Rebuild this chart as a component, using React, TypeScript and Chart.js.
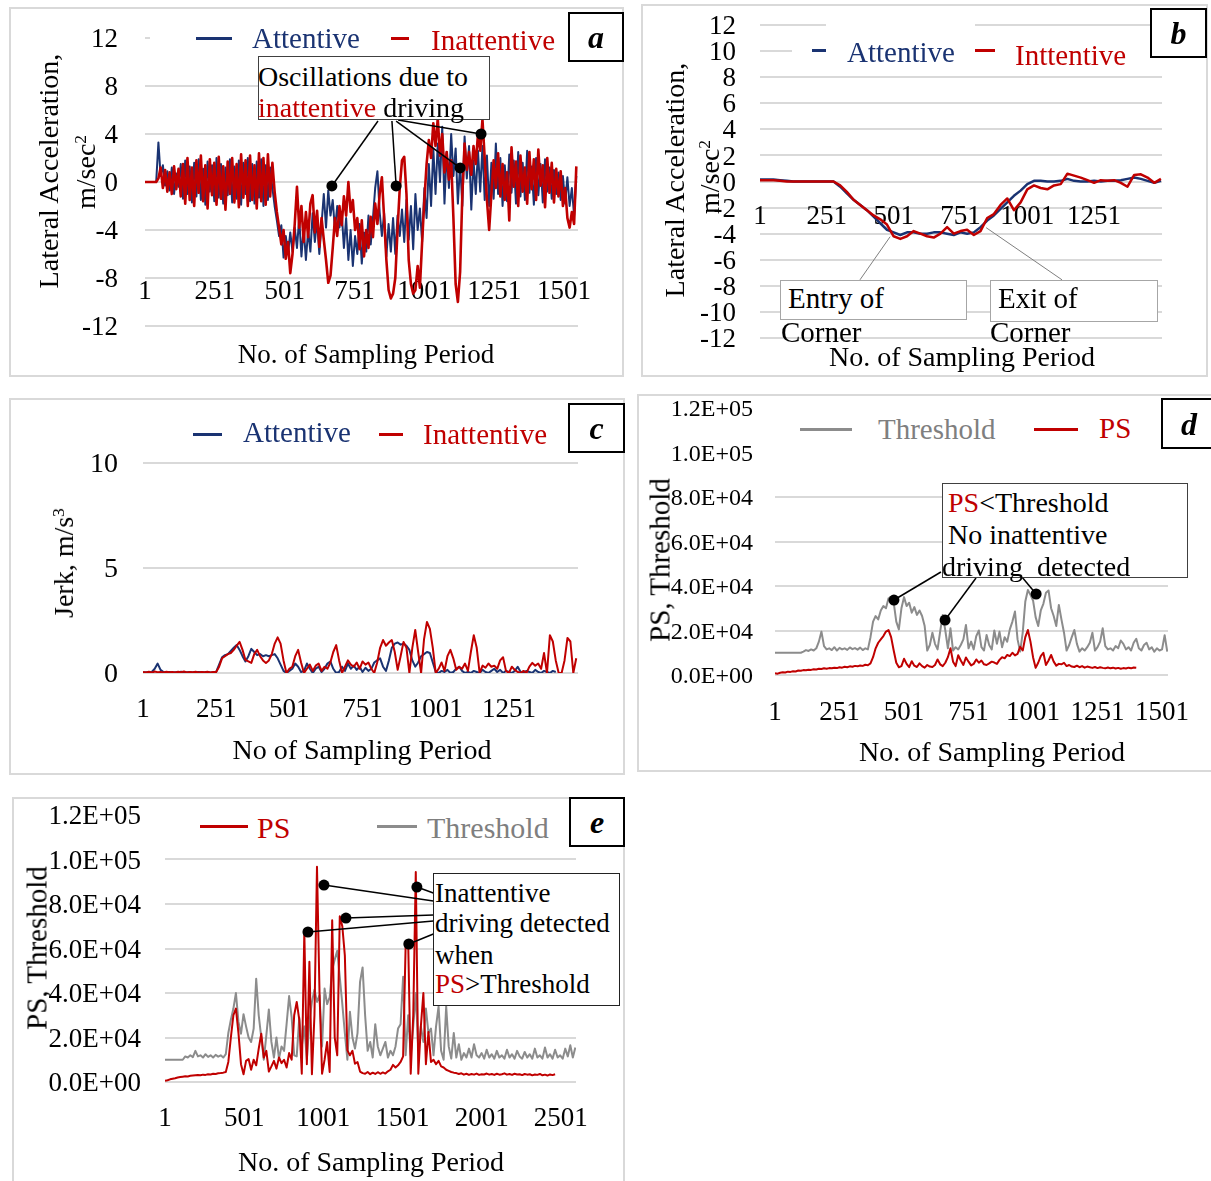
import React, { useEffect, useRef } from "react";
import { Chart, registerables } from "chart.js";

Chart.register(...registerables);

const FONT = "'Liberation Serif', 'Times New Roman', Times, serif";
const BLUE = "#1a3372";
const RED = "#c00000";
const GRAY = "#8c8c8c";
const GRAY_TEXT = "#7f7f7f";
const GRID = "#d9d9d9";

// ---------------- Panel a : lateral acceleration (samples every 8) ----------------
const A_STEP = 8;
const A_X_TICKS = [1, 251, 501, 751, 1001, 1251, 1501];
const A_ATTENTIVE = [
  0, 0, 0, 0, 0, 0,
  3.3, 0.5, 1.4, -0.3, 0.9, -0.7, 1.2, -1.0, 0.7, -0.4, 1.5,
  -1.4, 1.8, -1.0, 1.3, -1.7, 1.6, -1.2, 1.9, -1.5, 1.1, -1.9,
  1.7, -0.8, 1.4, -1.6, 2.0, -1.3, 1.5, -1.8, 1.2, -1.1, 1.9,
  -1.7, 1.3, -1.4, 1.8, -1.9, 1.6, -1.0, 2.0, -1.6, 1.5, -1.8,
  1.7, -1.3, 1.9, -2.0, 1.4, -1.5, 1.2, -0.5, -2.0, -3.2, -4.5,
  -3.6, -6.3, -4.5, -6.0, -4.2, -5.8, -3.8, -5.5, -3.0, -6.2, -3.8,
  -6.5, -4.0, -5.8, -2.6, -5.0, -3.2, -6.0, -3.5, -1.0, -3.8, -0.7,
  -2.8, -1.5, -4.0, -2.0, -3.8, -2.5, -5.5, -3.0, -6.5, -4.0, -7.0,
  -4.5, -6.0, -3.5, -6.8, -4.2, -5.8, -2.8, -5.2, -3.0, -0.5, 0.9,
  -2.5, -4.5, -2.6, -6.2, -3.5, -5.8, -3.0, -6.0, -2.8, -4.5, -2.3,
  -5.0, -1.5, -4.8, -2.0, -5.6, -1.0, -4.0, -2.2, -5.0, -0.5, -3.0,
  1.5, -2.0, 2.8, -1.0, 3.2, 0.0, 4.6, -1.8, 2.5, -0.5, 4.0,
  0.5, 2.8, -1.8, 1.5, -2.0, 3.8, 0.3, 3.0, -2.3, 1.8, -1.0,
  2.6, -0.8, 3.0, -1.5, 2.2, -2.0, 1.6, -1.4, 3.2, -1.0, 2.0,
  -2.0, 1.4, -1.6, 2.3, -0.9, 1.8, -1.8, 2.5, -1.2, 1.6, -1.5,
  2.6, -0.9, 1.3, -1.9, 2.0, -1.1, 1.5, -1.7, 1.9, -0.8, 1.2,
  -1.4, 1.0, -1.0, 0.8, -1.5, 0.5, -1.8, 0.4, -2.0, -0.5, -2.8, 0.5,
];
const A_INATTENTIVE = [
  0, 0, 0, 0, 0, 0,
  0.3, 1.2, -0.5, 1.0, -0.8, 0.8, -1.0, 1.3, -0.6, 1.1, -1.2,
  1.5, -1.8, 2.0, -1.5, 1.2, -2.0, 1.8, -0.9, 2.2, -1.6, 1.4,
  -2.2, 1.9, -1.1, 1.6, -1.9, 2.1, -1.4, 1.3, -2.3, 1.7, -1.0,
  2.0, -1.7, 1.5, -2.1, 2.3, -1.3, 1.8, -2.0, 2.2, -1.5, 1.4,
  -2.2, 2.4, -1.6, 2.0, -1.9, 2.3, -1.2, 1.6, -0.8, -2.5, -3.8,
  -5.2, -4.0, -6.4, -5.0, -7.6, -6.0, -3.5, -0.4, -3.8, -2.0, -5.0,
  -2.5, -4.6, -1.8, -1.1, -4.2, -2.4, -5.4, -3.0, -4.8, -6.5, -8.4,
  -7.8, -5.5, -3.0, -4.5, -2.0, -3.6, -1.2, -2.8, 0.0, -2.5, -1.5,
  -4.0, -3.0, -5.6, -3.2, -6.2, -4.0, -5.5, -2.9, -4.6, -1.8, -3.5,
  -1.0, 0.4, -3.0, -6.5, -9.0, -9.7, -9.3, -8.0, -4.0, -0.5, 1.8,
  2.1, -1.0, -6.5, -8.5, -9.3, -9.0, -7.0, -8.8, -5.0, -1.5, 1.5,
  3.5, 2.0, 4.9, 3.0, 5.3, 2.2, 4.0, 0.8, 2.5, 0.2, 1.8,
  -3.0, -8.5, -10.0, -7.5, -1.0, 3.2, 1.0, 2.5, 0.6, 3.0, 1.5,
  4.0, 2.6, 5.2, 2.0, -1.5, -4.0, -1.0, 1.8, -0.5, 2.4, -1.2,
  1.5, -1.5, 0.8, -3.2, 2.9, -0.4, 1.7, -2.0, 2.2, -0.8, 1.2,
  -1.8, 2.5, -0.6, 1.9, -1.5, 2.7, -0.3, 1.4, -2.1, 2.0, -0.9,
  1.6, -1.7, 1.1, -1.2, 0.9, -2.0, -0.5, -3.0, -3.8, -2.5, -3.5, 1.3,
];

// ---------------- Panel b : filtered lateral acceleration (samples every 25) ----------------
const B_STEP = 25;
const B_X_TICKS = [1, 251, 501, 751, 1001, 1251];
const B_ATTENTIVE = [
  0.15, 0.15, 0.15, 0.1, 0.05, 0, 0, 0, 0, 0, 0, 0,
  -0.4, -0.9, -1.4, -1.8, -2.2, -2.7, -3.2, -3.7, -3.9, -4.1, -3.9, -3.9, -4.0, -4.0,
  -3.9, -3.9, -4.0, -4.1, -3.9, -4.0, -3.9, -3.5, -3.0, -2.6, -2.1, -1.6, -1.1, -0.7, -0.2,
  0.05, 0.05, 0, 0, 0.05, 0.2, 0.05, 0, 0, 0.05, 0, 0.05, 0.05, 0.1, 0.2, 0.3, 0.2, 0.05, -0.1, 0.05,
];
const B_INATTENTIVE = [
  0.1, 0.1, 0.1, 0.05, 0, 0, 0, 0, 0, 0, 0, 0,
  -0.3, -0.8, -1.4, -1.8, -2.2, -2.6, -2.9, -3.3, -4.2, -4.4, -4.2, -3.8, -4.0, -4.2,
  -4.3, -4.0, -3.5, -4.0, -3.8, -3.7, -4.1, -3.8, -2.8, -2.5, -1.8, -1.3, -2.2, -1.6, -0.6,
  -0.3, -0.5, -0.6, -0.3, -0.2, 0.6, 0.45, 0.3, 0.1, -0.1, 0.1, 0.05, 0.1, -0.1, -0.4, 0.5, 0.55, 0.3, -0.1, 0.2,
];

// ---------------- Panel c : jerk (samples every 10) ----------------
const C_STEP = 10;
const C_X_TICKS = [1, 251, 501, 751, 1001, 1251];
const C_ATTENTIVE = [
  0.02, 0.03, 0.02, 0.05, 0.2, 0.45, 0.15, 0.05,
  0.03, 0.05, 0.02, 0.04, 0.03, 0.06, 0.02, 0.04, 0.05, 0.03, 0.02, 0.05, 0.04, 0.03, 0.05, 0.02, 0.04,
  0.05, 0.4, 0.75, 0.85, 0.9, 1.05, 1.2, 1.33, 1.1, 0.8, 0.55, 0.8, 1.15, 1.0, 0.85, 0.9, 0.8, 0.85, 0.8, 0.85, 0.9, 0.7, 0.4,
  0.1, 0.0, 0.1, 0.2, 0.45, 0.3, 0.05, 0.1, 0.45, 0.2, 0.0, 0.2, 0.3, 0.05, 0.2, 0.45, 0.55, 0.2, 0.0, 0.05, 0.3, 0.1, 0.45,
  0.2, 0.35, 0.15, 0.3, 0.05, 0.25, 0.1, 0.2, 0.5, 0.6, 0.7, 0.3, 0.1, 0.6, 1.2, 1.4, 1.45, 1.35, 1.4, 1.3, 1.1, 0.6, 0.3,
  0.5, 0.8, 0.9, 1.0, 0.95, 0.5, 0.05, 0.0, 0.1, 0.05, 0.15, 0.0, 0.05, 0.2, 0.3, 0.1, 0.0, 0.05, 0.0, 0.1, 0.05, 0.0, 0.15,
  0.05, 0.0, 0.1, 0.2, 0.05, 0.15, 0.0, 0.1, 0.05, 0.0, 0.1, 0.3, 0.05, 0.0, 0.1, 0.05, 0.0, 0.15, 0.05, 0.0, 0.1, 0.05, 0.0, 0.1, 0.05,
];
const C_INATTENTIVE = [
  0.05, 0.03, 0.06, 0.02, 0.07, 0.04, 0.05, 0.03, 0.06, 0.04, 0.05, 0.02, 0.06, 0.04, 0.07, 0.03, 0.05, 0.04, 0.06, 0.03, 0.05, 0.04, 0.06, 0.03, 0.05, 0.05,
  0.3, 0.7, 0.8, 0.9, 0.95, 1.1, 1.3, 1.48, 1.1, 0.62, 0.55, 0.48, 0.9, 1.1, 0.8, 0.6, 0.48, 0.6, 0.9, 1.4, 1.7, 1.4, 0.6,
  0.0, 0.2, 0.3, 0.8, 1.1, 0.5, 0.0, 0.2, 0.4, 0.1, 0.35, 0.45, 0.1, 0.3, 0.2, 0.5, 1.0, 1.33, 0.6, 0.0, 0.3, 0.6, 0.4,
  0.3, 0.5, 0.2, 0.55, 0.4, 0.5, 0.2, 0.0, 0.5, 1.2, 1.57, 1.3, 1.45, 1.57, 1.0, 0.15, 0.8, 1.48, 1.2, 0.0, 1.2, 2.05, 1.0,
  0.0, 1.6, 2.43, 2.1, 1.2, 0.0, 0.2, 0.5, 0.1, 0.8, 1.1, 0.7, 0.15, 0.3, 0.2, 0.45, 0.1, 1.0, 1.8, 1.2, 0.0, 0.35, 0.25,
  0.45, 0.3, 0.35, 0.2, 0.6, 0.75, 0.1, 0.0, 0.3, 0.15, 0.05, 0.0, 0.1, 0.0, 0.3, 0.48, 0.35, 0.45, 0.2, 0.95, 0.0, 1.8, 1.5,
  0.6, 0.0, 0.0, 0.6, 1.67, 1.5, 0.0, 0.7,
];

// ---------------- Panel d : PS vs threshold, attentive (samples every 10) ----------------
const D_STEP = 10;
const D_X_TICKS = [1, 251, 501, 751, 1001, 1251, 1501];
const D_THRESHOLD = [
  10000, 10000, 10000, 10000, 10000, 10000, 10000, 10000, 10000, 10000, 10000,
  10500, 11200, 10800, 11500, 11000, 12000, 15000, 19500, 13000, 11500, 12000,
  11200, 12500, 11000, 12200, 11500, 12000, 11300, 12400, 11600, 12100, 11400,
  12300, 11200, 12000, 11500, 17000, 24000, 26500, 25000, 29000, 31000, 30000,
  34500, 33000, 32500, 24000, 20500, 30000, 35000, 31000, 32500, 28000, 30500,
  27000, 29000, 26500, 22000, 11000, 13500, 19000, 14000, 11500, 19500, 27000,
  20000, 12000, 21000, 11000, 12500, 11500, 13500, 16000, 22500, 12000, 15000,
  11500, 17500, 20000, 12500, 11000, 18000, 13500, 11500, 20000, 14000, 19500,
  12500, 17000, 15000, 20500, 24000, 28500, 16000, 10500, 19000, 33000, 38200,
  36000, 33500, 26000, 22000, 29000, 32000, 37000, 38000, 30000, 26500, 22000,
  31500, 25000, 19000, 11000, 13500, 17000, 20200, 14000, 10500, 12000, 11000,
  12500, 14500, 19000, 11000, 12500, 15000, 21000, 13000, 11500, 12000, 11000,
  13000, 12000, 15500, 14000, 11500, 12500, 11000, 14500, 16300, 12000, 11000,
  13500, 14500, 11500, 12500, 10500, 12000, 11000, 11500, 17900, 10500,
];
const D_PS = [
  800, 600, 1000, 1200, 1100, 1500, 1400, 1700, 1600, 2000, 1900,
  2200, 2100, 2400, 2300, 2600, 2500, 2800, 2700, 3000, 2800, 3100,
  3000, 3300, 3100, 3500, 3300, 3700, 3500, 3900, 3700, 4100, 3900,
  4300, 4100, 4600, 4400, 5200, 8000, 12000, 14500, 16000, 17500, 19500,
  20200, 17000, 11000, 5500, 3500, 4000, 7300, 5000, 3500, 6200, 4200,
  3600, 5200, 4000, 3300, 4500, 3800, 3600, 4500, 7000, 4800, 4000,
  5500, 8000, 12000, 6000, 4000, 8900, 6500, 4500, 7900, 6000, 4300,
  5000, 7000, 5500, 6500, 4800, 4500, 5200, 6000, 5600, 5000, 6800,
  8000, 7500, 9000, 8500, 10000, 8800, 9500, 12700, 11000, 17000, 20200,
  15000, 8000, 3200, 5500, 8500, 10000, 4500, 6500, 9000, 6000, 4200,
  5000, 4800, 5500, 4000, 4500, 3800, 3600, 4200, 3500, 4000, 3300,
  3800, 3500, 3200, 3600, 3100, 3500, 3200, 3000, 3400, 3000, 3300,
  2900, 3200, 2800, 3100, 2900, 3300, 3000, 3400, 3300,
];

// ---------------- Panel e : PS vs threshold, inattentive (samples every 16) ----------------
const E_STEP = 16;
const E_X_TICKS = [1, 501, 1001, 1501, 2001, 2501];
const E_PS = [
  500, 800, 1200, 1500, 1700, 2000, 2200, 2400, 2600, 2500, 2800,
  2900, 3000, 3100, 3000, 3300, 3200, 3500, 3400, 3700, 3600, 3900,
  4000, 4200, 4500, 9000, 20000, 30000, 33000, 22000, 8000, 3500, 9500,
  10300, 5500, 10000, 7500, 15000, 21700, 11000, 14000, 4700, 7000, 9500,
  6000, 11000, 8500, 10000, 6500, 13000, 10000, 30000, 36000, 28000, 3700,
  67500, 8000, 54000, 3500, 30000, 96700, 40000, 3700, 10000, 18000, 4500,
  72700, 20000, 12000, 74500, 70000, 56800, 14200, 12000, 14000, 8200, 9000,
  4700, 4000, 3700, 4500, 3500, 4200, 3600, 4400, 3700, 4300, 3800,
  4800, 5500, 7700, 6500, 7500, 9000, 11500, 61600, 63000, 3700, 30000,
  94400, 3700, 25000, 40000, 8000, 22500, 9000, 10000, 8000, 9500, 7000,
  6500, 5500, 5000, 4500, 4200, 4000, 3600, 3900, 3300, 3700, 3200,
  3600, 3300, 3800, 3200, 3500, 3400, 3800, 3300, 3600, 3200, 3700,
  3300, 3500, 3900, 3300, 3600, 3200, 3700, 3400, 3500, 3100, 3600,
  3300, 3500, 3000, 3400, 3200, 3600, 3000, 3300, 2900, 3400, 3100, 3500,
];
const E_THRESHOLD = [
  10000, 10000, 10000, 10000, 10000, 10000, 10000, 10000, 11500, 11000, 12000,
  11200, 14000, 11500, 12000, 11000, 12500, 11300, 12000, 11000, 12200, 11400,
  12000, 11000, 12500, 22000, 28000, 33000, 40000, 27000, 21700, 30500, 25000,
  20000, 18000, 24000, 46400, 30000, 20000, 10000, 21000, 32600, 18000, 11000,
  20000, 10500, 16000, 14000, 26000, 38600, 29000, 12000, 11500, 29000, 16000,
  25000, 10000, 27000, 36000, 41500, 36000, 39000, 16000, 42000, 35000, 38000,
  50300, 55000, 59000, 47000, 35000, 22000, 10000, 31600, 20000, 15000, 22000,
  45000, 51500, 30000, 14000, 18000, 11000, 26000, 16000, 12000, 15000, 18000,
  11000, 14000, 12000, 16000, 24000, 26000, 47300, 12000, 30000, 12000, 25000,
  40000, 14000, 25000, 18000, 33000, 22000, 24000, 12000, 25000, 34000, 14000,
  10000, 34000, 16000, 10500, 22000, 11000, 17000, 10000, 13000, 11000, 15000,
  11000, 17000, 12000, 11000, 13000, 10500, 14500, 11000, 12500, 10500, 14000,
  11000, 12000, 10500, 14500, 11000, 12500, 10500, 14000, 11500, 10500, 13500,
  11000, 12500, 10500, 15000, 11000, 12000, 10500, 15500, 11000, 12500, 10500,
  14500, 11000, 12000, 10500, 15000, 11500, 16500, 11000, 15500,
];

// ---------------- helpers ----------------
type Series = { values: number[]; step: number; color: string; width: number };
type Callout = { from: [number, number]; to: [number, number]; dot: boolean; color: string; width: number };
type Spec = {
  box: { left: number; top: number; width: number; height: number };
  area: { left: number; top: number; right: number; bottom: number };
  xMax: number;
  xTicks: number[];
  xAxisAt: number;
  xPad: number;
  xFont: number;
  yMin: number;
  yMax: number;
  yStep: number;
  yPad: number;
  yFont: number;
  sci?: boolean;
  series: Series[];
  callouts: Callout[];
};

const sci = (v: number) => {
  if (v === 0) return "0.0E+00";
  const e = Math.floor(Math.log10(Math.abs(v)) + 1e-9);
  const m = v / Math.pow(10, e);
  return m.toFixed(1) + "E+" + String(e).padStart(2, "0");
};

function ChartPanel({ spec }: { spec: Spec }) {
  const ref = useRef<HTMLCanvasElement | null>(null);
  useEffect(() => {
    const cv = ref.current;
    if (!cv) return;
    const { box, area } = spec;
    const yAxisWidth = area.left - box.left - 2;
    const padding = {
      left: 2,
      top: area.top - box.top,
      right: box.left + box.width - area.right,
      bottom: box.top + box.height - area.bottom,
    };
    const calloutPlugin = {
      id: "callouts",
      afterDatasetsDraw(chart: any) {
        const ctx = chart.ctx;
        const sx = chart.scales.x;
        const sy = chart.scales.y;
        ctx.save();
        spec.callouts.forEach((c) => {
          const x1 = sx.getPixelForValue(c.from[0]);
          const y1 = sy.getPixelForValue(c.from[1]);
          const x2 = sx.getPixelForValue(c.to[0]);
          const y2 = sy.getPixelForValue(c.to[1]);
          ctx.strokeStyle = c.color;
          ctx.lineWidth = c.width;
          ctx.beginPath();
          ctx.moveTo(x1, y1);
          ctx.lineTo(x2, y2);
          ctx.stroke();
          if (c.dot) {
            ctx.fillStyle = "#000";
            ctx.beginPath();
            ctx.arc(x2, y2, 5.5, 0, Math.PI * 2);
            ctx.fill();
          }
        });
        ctx.restore();
      },
    };
    const chart = new Chart(cv, {
      type: "line",
      data: {
        datasets: spec.series.map((s) => ({
          data: s.values.map((v, i) => ({ x: 1 + i * s.step, y: v })),
          borderColor: s.color,
          borderWidth: s.width,
          pointRadius: 0,
          pointHoverRadius: 0,
          tension: 0,
          fill: false,
          borderJoinStyle: "round" as const,
        })),
      },
      options: {
        responsive: false,
        animation: false,
        devicePixelRatio: 1,
        events: [],
        layout: { padding },
        plugins: { legend: { display: false }, tooltip: { enabled: false } },
        scales: {
          x: {
            type: "linear",
            min: 1,
            max: spec.xMax,
            position: { y: spec.xAxisAt } as any,
            grid: { display: false, drawTicks: false },
            border: { display: false },
            ticks: {
              autoSkip: false,
              maxRotation: 0,
              minRotation: 0,
              padding: spec.xPad,
              color: "#000",
              font: { family: FONT, size: spec.xFont, lineHeight: 1 },
              callback: (v: any) => String(v),
            },
            afterBuildTicks: (s: any) => {
              s.ticks = spec.xTicks.map((v) => ({ value: v }));
            },
            afterFit: (s: any) => {
              s.paddingLeft = 0;
              s.paddingRight = 0;
            },
          },
          y: {
            type: "linear",
            position: "left",
            min: spec.yMin,
            max: spec.yMax,
            grid: { color: GRID, lineWidth: 2, drawTicks: false },
            border: { display: false },
            ticks: {
              stepSize: spec.yStep,
              autoSkip: false,
              padding: spec.yPad,
              labelOffset: 2,
              color: "#000",
              font: { family: FONT, size: spec.yFont, lineHeight: 1 },
              callback: (v: any) => (spec.sci ? sci(Number(v)) : String(v)),
            },
            afterFit: (s: any) => {
              s.width = yAxisWidth;
              s.paddingTop = 0;
              s.paddingBottom = 0;
            },
          },
        },
      } as any,
      plugins: [calloutPlugin],
    });
    return () => chart.destroy();
  }, [spec]);
  return (
    <canvas
      ref={ref}
      width={spec.box.width}
      height={spec.box.height}
      style={{
        position: "absolute",
        left: spec.box.left,
        top: spec.box.top,
        width: spec.box.width,
        height: spec.box.height,
      }}
    />
  );
}

const Txt = ({ x, y, size, color = "#000", center = false, children }: any) => (
  <div
    style={{
      position: "absolute",
      left: x,
      top: y,
      fontFamily: FONT,
      fontSize: size,
      lineHeight: 1,
      color,
      whiteSpace: "pre",
      transform: center ? "translate(-50%,-50%)" : "translateY(-50%)",
    }}
  >
    {children}
  </div>
);

const VTxt = ({ x, y, size, children }: any) => (
  <div
    style={{
      position: "absolute",
      left: x,
      top: y,
      fontFamily: FONT,
      fontSize: size,
      lineHeight: 1,
      color: "#000",
      whiteSpace: "nowrap",
      transform: "translate(-50%,-50%) rotate(-90deg)",
    }}
  >
    {children}
  </div>
);

const Sup = ({ children }: any) => (
  <span style={{ fontSize: "0.62em", position: "relative", top: "-0.5em", lineHeight: 0 }}>{children}</span>
);

const Rect = ({ l, t, w, h, border = "none", bg = "#fff" }: any) => (
  <div
    style={{
      position: "absolute",
      left: l,
      top: t,
      width: w,
      height: h,
      border,
      background: bg,
      boxSizing: "border-box",
    }}
  />
);

const HLine = ({ x1, x2, y, color, h = 3 }: any) => (
  <div style={{ position: "absolute", left: x1, top: y - h / 2, width: x2 - x1, height: h, background: color }} />
);

const LabelBox = ({ l, t, w, h, ch }: any) => (
  <div
    style={{
      position: "absolute",
      left: l,
      top: t,
      width: w,
      height: h,
      border: "2px solid #000",
      background: "#fff",
      boxSizing: "border-box",
      display: "flex",
      alignItems: "center",
      justifyContent: "center",
      fontFamily: FONT,
      fontWeight: "bold",
      fontStyle: "italic",
      fontSize: 32,
      lineHeight: 1,
      overflow: "hidden",
    }}
  >
    {ch}
  </div>
);

const PANEL_BORDER = "2px solid " + GRID;

// ---------------- specs ----------------
const SPEC_A: Spec = {
  box: { left: 9, top: 7, width: 615, height: 370 },
  area: { left: 145, top: 38, right: 578, bottom: 326 },
  xMax: 1551,
  xTicks: A_X_TICKS,
  xAxisAt: -8,
  xPad: 0.5,
  xFont: 27,
  yMin: -12,
  yMax: 12,
  yStep: 4,
  yPad: 27,
  yFont: 27,
  series: [
    { values: A_INATTENTIVE, step: A_STEP, color: RED, width: 2.6 },
    { values: A_ATTENTIVE, step: A_STEP, color: BLUE, width: 2 },
  ],
  callouts: [
    { from: [835, 5.08], to: [670, -0.33], dot: true, color: "#000", width: 1.5 },
    { from: [885, 5.08], to: [900, -0.33], dot: true, color: "#000", width: 1.5 },
    { from: [900, 5.08], to: [1129, 1.17], dot: true, color: "#000", width: 1.5 },
    { from: [907, 5.17], to: [1204, 4.0], dot: true, color: "#000", width: 1.5 },
  ],
};

const SPEC_B: Spec = {
  box: { left: 641, top: 4, width: 567, height: 373 },
  area: { left: 760, top: 25, right: 1162, bottom: 338 },
  xMax: 1505,
  xTicks: B_X_TICKS,
  xAxisAt: 0,
  xPad: 22,
  xFont: 27,
  yMin: -12,
  yMax: 12,
  yStep: 2,
  yPad: 24,
  yFont: 27,
  series: [
    { values: B_INATTENTIVE, step: B_STEP, color: RED, width: 2.5 },
    { values: B_ATTENTIVE, step: B_STEP, color: BLUE, width: 2.5 },
  ],
  callouts: [
    { from: [375, -7.54], to: [488, -4.23], dot: false, color: "#7f7f7f", width: 1 },
    { from: [1131, -7.54], to: [847, -3.54], dot: false, color: "#7f7f7f", width: 1 },
  ],
};

const SPEC_C: Spec = {
  box: { left: 9, top: 398, width: 616, height: 377 },
  area: { left: 143, top: 463, right: 578, bottom: 673 },
  xMax: 1487,
  xTicks: C_X_TICKS,
  xAxisAt: 0,
  xPad: 23.5,
  xFont: 27,
  yMin: 0,
  yMax: 10,
  yStep: 5,
  yPad: 25,
  yFont: 28,
  series: [
    { values: C_INATTENTIVE, step: C_STEP, color: RED, width: 2 },
    { values: C_ATTENTIVE, step: C_STEP, color: BLUE, width: 2 },
  ],
  callouts: [],
};

const SPEC_D: Spec = {
  box: { left: 637, top: 394, width: 574, height: 378 },
  area: { left: 775, top: 408, right: 1168, bottom: 675 },
  xMax: 1524,
  xTicks: D_X_TICKS,
  xAxisAt: 0,
  xPad: 24,
  xFont: 27,
  yMin: 0,
  yMax: 120000,
  yStep: 20000,
  yPad: 22,
  yFont: 24,
  sci: true,
  series: [
    { values: D_PS, step: D_STEP, color: RED, width: 2 },
    { values: D_THRESHOLD, step: D_STEP, color: GRAY, width: 2 },
  ],
  callouts: [
    { from: [644, 46300], to: [462, 33700], dot: true, color: "#000", width: 1.5 },
    { from: [780, 43600], to: [660, 24700], dot: true, color: "#000", width: 1.5 },
    { from: [958, 44000], to: [1013, 36400], dot: true, color: "#000", width: 1.5 },
  ],
};

const SPEC_E: Spec = {
  box: { left: 12, top: 797, width: 613, height: 384 },
  area: { left: 165, top: 815, right: 576, bottom: 1082 },
  xMax: 2597,
  xTicks: E_X_TICKS,
  xAxisAt: 0,
  xPad: 23.5,
  xFont: 27,
  yMin: 0,
  yMax: 120000,
  yStep: 20000,
  yPad: 24,
  yFont: 27,
  sci: true,
  series: [
    { values: E_PS, step: E_STEP, color: RED, width: 2 },
    { values: E_THRESHOLD, step: E_STEP, color: GRAY, width: 2 },
  ],
  callouts: [
    { from: [1696, 81340], to: [1005, 88530], dot: true, color: "#000", width: 1.5 },
    { from: [1696, 84940], to: [1592, 87630], dot: true, color: "#000", width: 1.5 },
    { from: [1696, 75050], to: [1144, 73700], dot: true, color: "#000", width: 1.5 },
    { from: [1696, 72350], to: [904, 67410], dot: true, color: "#000", width: 1.5 },
    { from: [1696, 66510], to: [1541, 62020], dot: true, color: "#000", width: 1.5 },
  ],
};

export default function App() {
  return (
    <div
      style={{
        position: "absolute",
        left: 0,
        top: 0,
        width: 1211,
        height: 1181,
        background: "#fff",
        overflow: "hidden",
      }}
    >
      {/* panel frames */}
      <Rect l={9} t={7} w={615} h={370} border={PANEL_BORDER} />
      <Rect l={641} t={4} w={567} h={373} border={PANEL_BORDER} />
      <Rect l={9} t={398} w={616} h={377} border={PANEL_BORDER} />
      <Rect l={637} t={394} w={580} h={378} border={PANEL_BORDER} />
      <Rect l={12} t={797} w={613} h={400} border={PANEL_BORDER} />

      <ChartPanel spec={SPEC_A} />
      <ChartPanel spec={SPEC_B} />
      <ChartPanel spec={SPEC_C} />
      <ChartPanel spec={SPEC_D} />
      <ChartPanel spec={SPEC_E} />

      {/* ---- panel a ---- */}
      <Rect l={150} t={22} w={418} h={34} />
      <HLine x1={196} x2={232} y={38} color={BLUE} />
      <Txt x={252} y={38} size={29} color={BLUE}>Attentive</Txt>
      <HLine x1={391} x2={409} y={38} color={RED} />
      <Txt x={431} y={40} size={29} color={RED}>Inattentive</Txt>
      <Rect l={258} t={56} w={232} h={64} border="1.5px solid #404040" />
      <Txt x={258} y={77} size={28}>Oscillations due to</Txt>
      <Txt x={258} y={108} size={28}>
        <span style={{ color: RED }}>inattentive</span> driving
      </Txt>
      <VTxt x={49} y={171} size={28}>Lateral Acceleration,</VTxt>
      <VTxt x={86} y={172} size={28}>
        m/sec<Sup>2</Sup>
      </VTxt>
      <Txt x={366} y={354} size={27} center>No. of Sampling Period</Txt>
      <LabelBox l={568} t={12} w={56} h={50} ch="a" />

      {/* ---- panel b ---- */}
      <Rect l={792} t={36} w={370} h={34} />
      <Rect l={826} t={17} w={149} h={17} />
      <HLine x1={812} x2={826} y={50} color={BLUE} />
      <Txt x={847} y={52} size={29} color={BLUE}>Attentive</Txt>
      <HLine x1={975} x2={995} y={50} color={RED} />
      <Txt x={1015} y={55} size={29} color={RED}>Inttentive</Txt>
      <Rect l={780} t={280} w={187} h={40} border="1.5px solid #a6a6a6" />
      <Txt x={788} y={298} size={29}>Entry of</Txt>
      <Txt x={781} y={332} size={29}>Corner</Txt>
      <Rect l={990} t={280} w={168} h={42} border="1.5px solid #a6a6a6" />
      <Txt x={998} y={298} size={29}>Exit of</Txt>
      <Txt x={990} y={332} size={29}>Corner</Txt>
      <VTxt x={675} y={180} size={28}>Lateral Acceleration,</VTxt>
      <VTxt x={710} y={177} size={28}>
        m/sec<Sup>2</Sup>
      </VTxt>
      <Txt x={962} y={357} size={28} center>No. of Sampling Period</Txt>
      <LabelBox l={1150} t={8} w={57} h={50} ch="b" />

      {/* ---- panel c ---- */}
      <HLine x1={193} x2={222} y={434} color={BLUE} />
      <Txt x={243} y={432} size={29} color={BLUE}>Attentive</Txt>
      <HLine x1={379} x2={403} y={434} color={RED} />
      <Txt x={423} y={434} size={29} color={RED}>Inattentive</Txt>
      <VTxt x={64} y={563} size={28}>
        Jerk, m/s<Sup>3</Sup>
      </VTxt>
      <Txt x={362} y={750} size={28} center>No of Sampling Period</Txt>
      <LabelBox l={568} t={403} w={57} h={50} ch="c" />

      {/* ---- panel d ---- */}
      <Rect l={770} t={396} w={400} h={70} />
      <HLine x1={800} x2={852} y={429} color={GRAY} />
      <Txt x={878} y={429} size={29} color={GRAY_TEXT}>Threshold</Txt>
      <HLine x1={1034} x2={1078} y={429} color={RED} />
      <Txt x={1099} y={428} size={29} color={RED}>PS</Txt>
      <Rect l={942} t={483} w={246} h={95} border="1.5px solid #404040" />
      <Txt x={948} y={503} size={28}>
        <span style={{ color: RED }}>PS</span>{"<Threshold"}
      </Txt>
      <Txt x={948} y={535} size={28}>No inattentive</Txt>
      <Txt x={942} y={567} size={28}>{"driving  detected"}</Txt>
      <VTxt x={660} y={560} size={29}>PS, Threshold</VTxt>
      <Txt x={992} y={752} size={28} center>No. of Sampling Period</Txt>
      <LabelBox l={1161} t={398} w={56} h={51} ch="d" />

      {/* ---- panel e ---- */}
      <Rect l={160} t={803} w={410} h={42} />
      <HLine x1={200} x2={248} y={826} color={RED} />
      <Txt x={257} y={828} size={30} color={RED}>PS</Txt>
      <HLine x1={377} x2={417} y={826} color={GRAY} />
      <Txt x={427} y={828} size={30} color={GRAY_TEXT}>Threshold</Txt>
      <Rect l={433} t={873} w={187} h={133} border="1.5px solid #222" />
      <Txt x={435} y={893} size={27}>Inattentive</Txt>
      <Txt x={435} y={923} size={27}>driving detected</Txt>
      <Txt x={435} y={955} size={27}>when</Txt>
      <Txt x={435} y={984} size={27}>
        <span style={{ color: RED }}>PS</span>{">Threshold"}
      </Txt>
      <VTxt x={37} y={948} size={29}>PS, Threshold</VTxt>
      <Txt x={371} y={1162} size={28} center>No. of Sampling Period</Txt>
      <LabelBox l={569} t={797} w={56} h={50} ch="e" />
    </div>
  );
}
